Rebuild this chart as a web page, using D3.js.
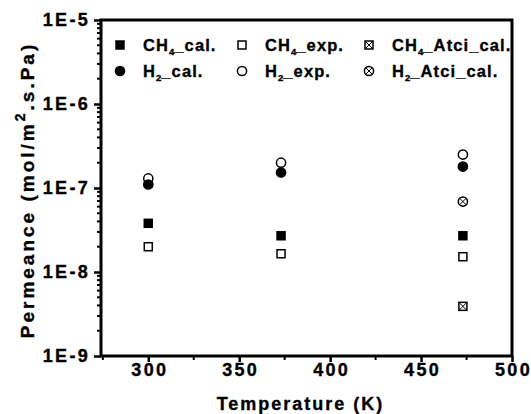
<!DOCTYPE html>
<html>
<head>
<meta charset="utf-8">
<script src="https://cdn.jsdelivr.net/npm/d3@7"></script>
<style>
  body { margin: 0; background: #fff; }
  text { font-family: "Liberation Sans", Arial, sans-serif; font-weight: bold; fill: #000; stroke: #000; stroke-width: 0.35px; }
</style>
</head>
<body>
<svg id="chart" width="531" height="414"></svg>
<script>
// temperatures (K) and permeances (mol/m2.s.Pa)
const temps = [300, 373, 473];
const ch4Cal = [3.8e-8, 2.7e-8, 2.7e-8];
const ch4Exp = [2.0e-8, 1.65e-8, 1.52e-8];
const h2Cal = [1.1e-7, 1.53e-7, 1.8e-7];
const h2Exp = [1.3e-7, 2.0e-7, 2.5e-7];
const atciTemps = [473];
const ch4Atci = [3.9e-9];
const h2Atci = [6.9e-8];
const xTicks = [300, 350, 400, 450, 500];
const yTicks = [1e-9, 1e-8, 1e-7, 1e-6, 1e-5];
const yTickLabels = ["1E-9", "1E-8", "1E-7", "1E-6", "1E-5"];

const svg = d3.select("#chart");
const pLeft = 101, pRight = 512, pTop = 20, pBottom = 356;

const x = d3.scaleLinear().domain([274, 500]).range([pLeft, pRight]);
const y = d3.scaleLog().domain([1e-9, 1e-5]).range([pBottom, pTop]);

// minor ticks
const xMinor = d3.range(275, 500, 50);
svg.append("g").selectAll("line").data(xMinor).enter().append("line")
  .attr("x1", d => x(d)).attr("x2", d => x(d))
  .attr("y1", pBottom).attr("y2", pBottom + 4)
  .attr("stroke", "#000").attr("stroke-width", 2);
const yMinor = [];
for (let e = -9; e < -5; e++) for (let m = 2; m <= 9; m++) yMinor.push(m * Math.pow(10, e));
svg.append("g").selectAll("line").data(yMinor).enter().append("line")
  .attr("x1", pLeft - 4).attr("x2", pLeft)
  .attr("y1", d => y(d)).attr("y2", d => y(d))
  .attr("stroke", "#000").attr("stroke-width", 2);

// axes
const xAxis = svg.append("g").attr("transform", "translate(0," + pBottom + ")")
  .call(d3.axisBottom(x).tickValues(xTicks).tickSize(6));
const yAxis = svg.append("g").attr("transform", "translate(" + pLeft + ",0)")
  .call(d3.axisLeft(y).tickValues(yTicks).tickFormat((d, i) => yTickLabels[i]).tickSize(7).tickPadding(4));
[xAxis, yAxis].forEach(g => {
  g.select(".domain").remove();
  g.selectAll("line").attr("stroke", "#000").attr("stroke-width", 2.5);
  g.selectAll("text").style("font-size", "18px").style("letter-spacing", "2.3px")
    .style("font-family", "Liberation Sans, Arial, sans-serif").style("font-weight", "bold");
});
xAxis.selectAll("text").attr("y", 20).attr("dy", 0).attr("dx", 1);

// frame
svg.append("rect")
  .attr("x", pLeft).attr("y", pTop)
  .attr("width", pRight - pLeft).attr("height", pBottom - pTop)
  .attr("fill", "none").attr("stroke", "#000").attr("stroke-width", 3);

// marker helpers
function square(g, cx, cy, filled, cross) {
  const s = 8;
  g.append("rect").attr("x", cx - s / 2).attr("y", cy - s / 2).attr("width", s).attr("height", s)
    .attr("fill", filled ? "#000" : "#fff").attr("stroke", "#000").attr("stroke-width", 1.5);
  if (cross) {
    g.append("path").attr("d", `M${cx - s / 2},${cy - s / 2}L${cx + s / 2},${cy + s / 2}M${cx + s / 2},${cy - s / 2}L${cx - s / 2},${cy + s / 2}`)
      .attr("stroke", "#000").attr("stroke-width", 1);
  }
}
function circle(g, cx, cy, filled, cross) {
  const r = 4.6;
  g.append("circle").attr("cx", cx).attr("cy", cy).attr("r", r)
    .attr("fill", filled ? "#000" : "#fff").attr("stroke", "#000").attr("stroke-width", 1.5);
  if (cross) {
    const k = r * 0.72;
    g.append("path").attr("d", `M${cx - k},${cy - k}L${cx + k},${cy + k}M${cx + k},${cy - k}L${cx - k},${cy + k}`)
      .attr("stroke", "#000").attr("stroke-width", 1);
  }
}

const pts = svg.append("g");
temps.forEach((t, i) => {
  square(pts, x(t), y(ch4Exp[i]), false, false);
  square(pts, x(t), y(ch4Cal[i]), true, false);
  circle(pts, x(t), y(h2Exp[i]), false, false);
  circle(pts, x(t), y(h2Cal[i]), true, false);
});
atciTemps.forEach((t, i) => {
  square(pts, x(t), y(ch4Atci[i]), false, true);
  circle(pts, x(t), y(h2Atci[i]), false, true);
});

// legend
const legend = svg.append("g");
const cols = [120, 242, 369];
const rows = [45, 71];
const legendItems = [
  { col: 0, row: 0, shape: "sq", filled: true, cross: false, name: "CH", sub: "4", rest: "_cal." },
  { col: 1, row: 0, shape: "sq", filled: false, cross: false, name: "CH", sub: "4", rest: "_exp." },
  { col: 2, row: 0, shape: "sq", filled: false, cross: true, name: "CH", sub: "4", rest: "_Atci_cal." },
  { col: 0, row: 1, shape: "ci", filled: true, cross: false, name: "H", sub: "2", rest: "_cal." },
  { col: 1, row: 1, shape: "ci", filled: false, cross: false, name: "H", sub: "2", rest: "_exp." },
  { col: 2, row: 1, shape: "ci", filled: false, cross: true, name: "H", sub: "2", rest: "_Atci_cal." }
];
legendItems.forEach(it => {
  const cx = cols[it.col], cy = rows[it.row];
  if (it.shape === "sq") square(legend, cx, cy, it.filled, it.cross);
  else circle(legend, cx, cy, it.filled, it.cross);
  const t = legend.append("text").attr("x", cx + 23).attr("y", cy + 6)
    .style("font-size", "16.5px").style("letter-spacing", "1.1px");
  t.append("tspan").text(it.name);
  t.append("tspan").text(it.sub).attr("dy", 4).style("font-size", "9.5px").style("letter-spacing", "0px");
  t.append("tspan").text(it.rest).attr("dy", -4);
});

// axis titles
svg.append("text").attr("x", (pLeft + pRight) / 2 - 6).attr("y", 410)
  .attr("text-anchor", "middle").style("font-size", "18px").style("letter-spacing", "2px")
  .text("Temperature (K)");
const yl = svg.append("text").attr("transform", "translate(34,190) rotate(-90)")
  .attr("text-anchor", "middle").style("font-size", "19px").style("letter-spacing", "3px");
yl.append("tspan").text("Permeance (mol/m");
yl.append("tspan").text("2").attr("dy", -9).style("font-size", "14px");
yl.append("tspan").text(".s.Pa)").attr("dy", 9);
</script>
</body>
</html>
